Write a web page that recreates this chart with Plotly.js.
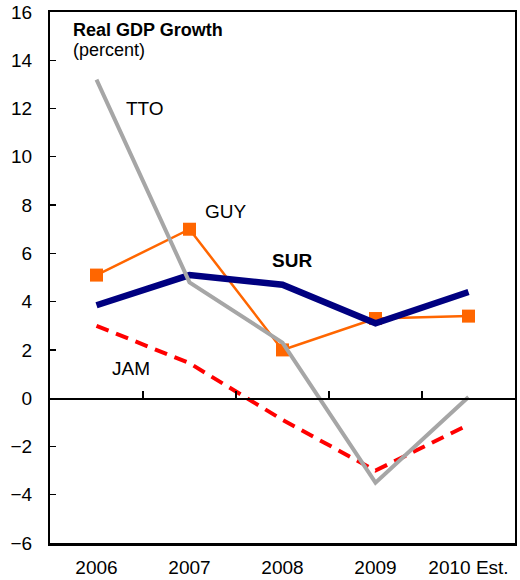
<!DOCTYPE html>
<html>
<head>
<meta charset="utf-8">
<script src="https://cdn.plot.ly/plotly-3.0.1.min.js"></script>
<style>html,body{margin:0;padding:0;background:#fff;}#chart{width:520px;height:580px;}</style>
</head>
<body>
<div id="chart"></div>
<script>
const years = ["2006", "2007", "2008", "2009", "2010 Est."];
const tto = [13.2, 4.8, 2.3, -3.5, 0.05];
const guy = [5.1, 7.0, 2.0, 3.3, 3.4];
const sur = [3.85, 5.1, 4.7, 3.1, 4.4];
const jam = [3.0, 1.45, -0.9, -3.0, -1.1];
const yTicks = [-6, -4, -2, 0, 2, 4, 6, 8, 10, 12, 14, 16];

const font = {family: "Liberation Sans, Arial, sans-serif", size: 19, color: "#000"};
const idx = [0, 1, 2, 3, 4];

const traces = [
  {x: idx, y: jam, mode: "lines", line: {color: "#FF0000", width: 4, dash: "13px,8px"}, name: "JAM"},
  {x: idx, y: guy, mode: "lines+markers", line: {color: "#FF6600", width: 2.5},
   marker: {symbol: "square", size: 13, color: "#FF6600"}, name: "GUY"},
  {x: idx, y: sur, mode: "lines", line: {color: "#000080", width: 6.5}, name: "SUR"},
  {x: idx, y: tto, mode: "lines", line: {color: "#A6A6A6", width: 4}, name: "TTO"},
  {x: idx, y: [null, null, null, null, null], xaxis: "x2", mode: "lines", showlegend: false, hoverinfo: "skip"}
];

const layout = {
  width: 520, height: 580,
  margin: {l: 50, r: 5, t: 12, b: 37},
  paper_bgcolor: "#fff", plot_bgcolor: "#fff",
  font: font,
  showlegend: false,
  xaxis: {
    range: [-0.5, 4.5], tickmode: "array", tickvals: idx, ticktext: years,
    showgrid: false, zeroline: false, showline: true, linecolor: "#000", linewidth: 2.5,
    mirror: true, ticks: "", tickfont: font, ticklabelstandoff: 6, fixedrange: true
  },
  xaxis2: {
    overlaying: "x", anchor: "free", position: 6 / 22, range: [-0.5, 4.5],
    tickmode: "array", tickvals: [0.5, 1.5, 2.5, 3.5], showticklabels: false,
    ticks: "inside", ticklen: 7, tickwidth: 1.2, tickcolor: "#000",
    showline: true, linecolor: "#000", linewidth: 1.5, showgrid: false, zeroline: false, side: "bottom"
  },
  yaxis: {
    range: [-6, 16], tickmode: "array", tickvals: yTicks,
    showgrid: false, zeroline: false, showline: true, linecolor: "#000", linewidth: 2,
    mirror: true, ticks: "inside", ticklen: 6, tickwidth: 1.2, tickcolor: "#000",
    tickfont: font, ticklabelstandoff: 12, fixedrange: true
  },
  annotations: [
    {xref: "paper", yref: "paper", x: 0.045, y: 0.966, xanchor: "left", yanchor: "middle",
     text: "<b>Real GDP Growth</b>", showarrow: false, font: {family: font.family, size: 18, color: "#000"}},
    {xref: "paper", yref: "paper", x: 0.045, y: 0.928, xanchor: "left", yanchor: "middle",
     text: "(percent)", showarrow: false, font: {family: font.family, size: 18, color: "#000"}},
    {xref: "x", yref: "y", x: 0.52, y: 12.0, text: "TTO", showarrow: false, xanchor: "center", font: font},
    {xref: "x", yref: "y", x: 1.39, y: 7.75, text: "GUY", showarrow: false, xanchor: "center", font: font},
    {xref: "x", yref: "y", x: 2.1, y: 5.7, text: "<b>SUR</b>", showarrow: false, xanchor: "center", font: font},
    {xref: "x", yref: "y", x: 0.37, y: 1.25, text: "JAM", showarrow: false, xanchor: "center", font: font}
  ]
};

Plotly.newPlot("chart", traces, layout, {displayModeBar: false, staticPlot: true});
</script>
</body>
</html>
